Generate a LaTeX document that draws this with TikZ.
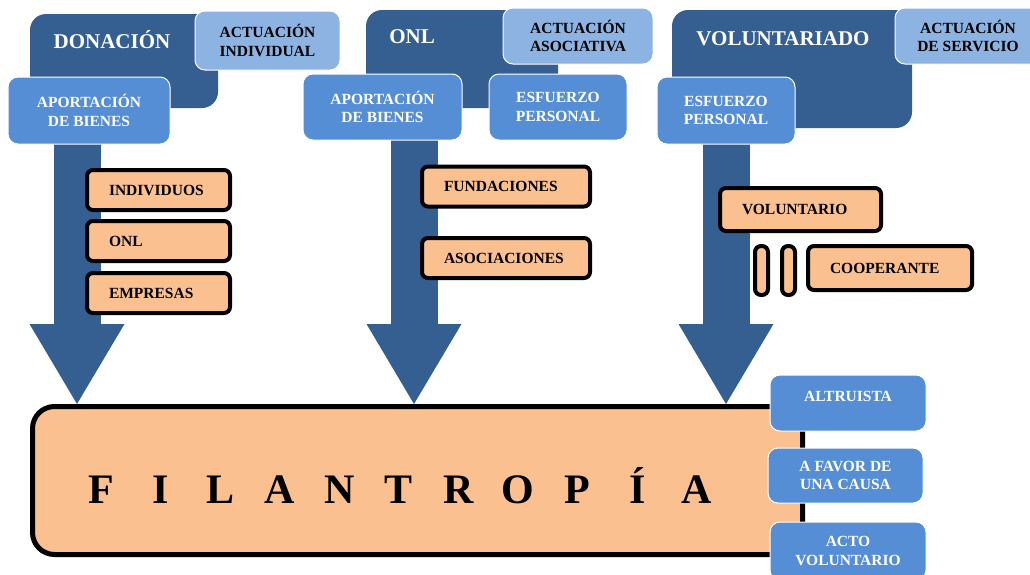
\documentclass[tikz,border=0pt]{standalone}
\usepackage{fontspec}
\setmainfont{Liberation Serif}
\usetikzlibrary{arrows.meta,positioning}
\definecolor{fiDark}{HTML}{365F91}
\definecolor{fiMid}{HTML}{558ED5}
\definecolor{fiLight}{HTML}{8DB3E2}
\definecolor{fiOrange}{HTML}{FAC090}
\tikzset{
  fi-box/.style={
    rounded corners=10pt, align=center, inner sep=0pt,
    font=\fontsize{15.5}{18.5}\selectfont\bfseries
  },
  fi-dark/.style={fi-box, fill=fiDark, rounded corners=16pt},
  fi-light/.style={fi-box, fill=fiLight, draw=white, line width=1pt, text=black},
  fi-mid/.style={fi-box, fill=fiMid, draw=white, line width=1pt, text=white},
  fi-orange/.style={fi-box, fill=fiOrange, draw=black, line width=4pt,
    rounded corners=6pt, align=left, inner xsep=22pt, anchor=west,
    minimum height=40pt},
  fi-title/.style={font=\fontsize{21}{25}\selectfont\bfseries, text=white,
    inner sep=0pt, anchor=base},
  fi-letter/.style={font=\fontsize{42}{42}\selectfont\bfseries, inner sep=0pt,
    anchor=base},
  fi-arrow/.style={line width=47pt, draw=fiDark,
    -{Triangle[length=80pt,width=95pt,line width=0pt]}}
}

\begin{document}
\begin{tikzpicture}[x=1pt, y=-1pt]
\useasboundingbox (0,0) rectangle (1030,574);

% big box
\node[fi-box, fill=fiOrange, draw=black, line width=5pt, rounded corners=22pt,
  minimum width=770pt, minimum height=148pt] (filan) at (417.5,480.5) {};
\foreach \l [count=\i from 0] in {F,I,L,A,N,T,R,O,P,Í,A}
  \node[fi-letter] (let\i) at ({101+59.6*\i},503) {\l};

% arrows
\coordinate (a1) at (77,135);
\coordinate (a2) at (414,130);
\coordinate (a3) at (726,130);
\draw[fi-arrow] (a1) -- (a1 |- filan.north);
\draw[fi-arrow] (a2) -- (a2 |- filan.north);
\draw[fi-arrow] (a3) -- (a3 |- filan.north);

% headers
\node[fi-dark, minimum width=188pt, minimum height=94pt] (don) at (124,61) {};
\node[fi-title] (dontxt) at (112,48) {DONACIÓN};
\node[fi-dark, minimum width=192pt, minimum height=98pt] (onl) at (462,59) {};
\node[fi-title] (onltxt) at (412,43) {ONL};
\node[fi-dark, minimum width=240pt, minimum height=118pt] (vol) at (792,69) {};
\node[fi-title] (voltxt) at (783,45) {VOLUNTARIADO};

\node[fi-light, minimum width=145pt, minimum height=59pt] (ai) at (267.5,40.5)
  {ACTUACIÓN\\INDIVIDUAL};
\node[fi-light, minimum width=150pt, minimum height=56pt] (aa) at (578,36)
  {ACTUACIÓN\\ASOCIATIVA};
\node[fi-light, minimum width=146pt, minimum height=56pt] (as) at (968,36)
  {ACTUACIÓN\\DE SERVICIO};

\node[fi-mid, minimum width=162pt, minimum height=67pt] (ap1) at (89,110.5)
  {APORTACIÓN\\DE BIENES};
\node[fi-mid, minimum width=159pt, minimum height=66pt] (ap2) at (382.5,107)
  {APORTACIÓN\\DE BIENES};
\node[fi-mid, minimum width=138pt, minimum height=66pt] (ep2) at (558,107)
  {ESFUERZO\\PERSONAL};
\node[fi-mid, minimum width=138pt, minimum height=67pt] (ep3) at (726,110.5)
  {ESFUERZO\\PERSONAL};

% kinds
\node[fi-orange, text width=99pt] (ind) at (85,190) {INDIVIDUOS};
\node[fi-orange, text width=99pt] (onl2) at (85,241) {ONL};
\node[fi-orange, text width=99pt] (emp) at (85,293) {EMPRESAS};
\node[fi-orange, text width=124pt] (fund) at (420,186.5) {FUNDACIONES};
\node[fi-orange, text width=124pt] (asoc) at (420,258) {ASOCIACIONES};
\node[fi-orange, text width=117pt, minimum height=43pt] (volun) at (718,209.5)
  {VOLUNTARIO};
\node[fi-orange, inner xsep=0pt, minimum width=13pt, minimum height=49pt]
  (bar1) at (753,270.5) {};
\node[fi-orange, inner xsep=0pt, minimum width=13pt, minimum height=49pt]
  (bar2) at (780,270.5) {};
\node[fi-orange, text width=120pt, minimum height=44pt] (coop) at (806,268)
  {COOPERANTE};

% traits
\node[fi-mid, minimum width=156pt, minimum height=56pt, text depth=14pt]
  (alt) at (848,403) {ALTRUISTA};
\node[fi-mid, minimum width=155pt, minimum height=55pt] (fav) at (845.5,475.5)
  {A FAVOR DE\\UNA CAUSA};
\node[fi-mid, minimum width=156pt, minimum height=58pt] (acto) at (848,551)
  {ACTO\\VOLUNTARIO};
\end{tikzpicture}
\end{document}
